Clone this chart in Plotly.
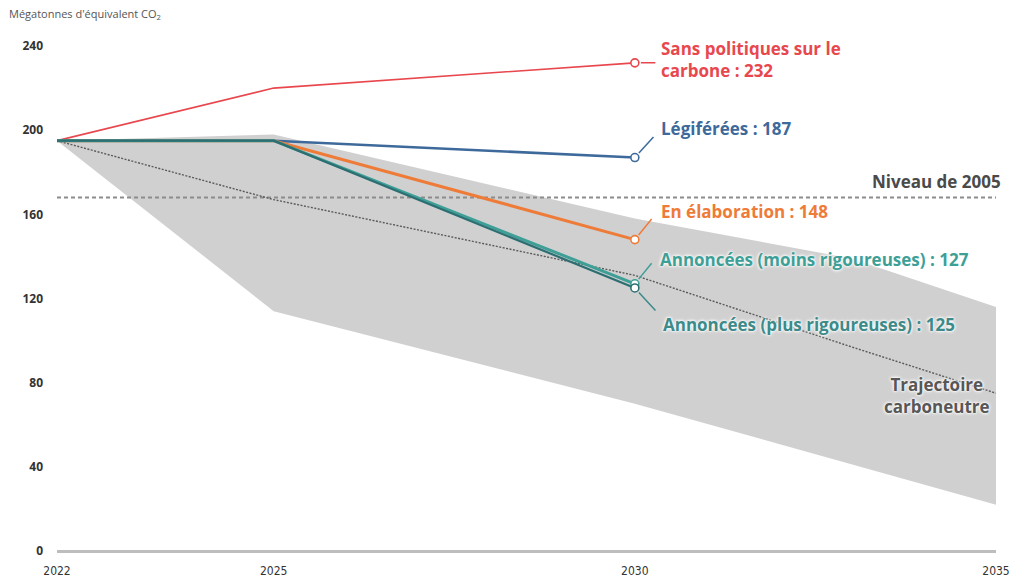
import plotly.graph_objects as go

# ---------------- data ----------------
years = [2022, 2025, 2030]
sans_politiques = [195, 220, 232]
legiferees = [195, 195, 187]
en_elaboration = [195, 195, 148]
annoncees_moins = [195, 195, 127]
annoncees_plus = [195, 195, 125]

band_years = [2022, 2025, 2030, 2033, 2035]
band_upper = [195, 198, 158, 139, 116]
band_lower = [195, 114, 70, 41, 22]

traj_years = [2022, 2025, 2030, 2033, 2035]
traj_values = [195, 167, 131, 97, 75]

niveau_2005 = 168

x_ticks = [2022, 2025, 2030, 2035]
y_ticks = [0, 40, 80, 120, 160, 200, 240]

# ---------------- styles ----------------
RED = "#E8474E"
BLUE = "#3E6A9B"
ORANGE = "#EE7B38"
TEAL_L = "#3E9F97"
TEAL_D = "#2D6E72"
GREY_TXT = "#4A4A4A"
LABEL_FONT = "Open Sans"

fig = go.Figure()

# grey band
fig.add_trace(go.Scatter(x=band_years, y=band_lower, mode="lines",
                         line=dict(width=0, color="#D0D0D0"), hoverinfo="skip",
                         showlegend=False))
fig.add_trace(go.Scatter(x=band_years, y=band_upper, mode="lines", fill="tonexty",
                         fillcolor="#D0D0D0", line=dict(width=0, color="#D0D0D0"),
                         hoverinfo="skip", showlegend=False))

# 2005 level
fig.add_trace(go.Scatter(x=[x_ticks[0], x_ticks[-1]], y=[niveau_2005, niveau_2005],
                         mode="lines", line=dict(color="#8C8C8C", width=1.8, dash="4px,3px"),
                         hoverinfo="skip", showlegend=False))

# carbon-neutral trajectory
fig.add_trace(go.Scatter(x=traj_years, y=traj_values, mode="lines",
                         line=dict(color="#5A5A5A", width=1.4, dash="2px,1.5px"),
                         hoverinfo="skip", showlegend=False))

series = [
    (sans_politiques, RED, 1.6),
    (legiferees, BLUE, 2.6),
    (en_elaboration, ORANGE, 3),
    (annoncees_moins, TEAL_L, 3),
    (annoncees_plus, TEAL_D, 2.2),
]
for vals, col, w in series:
    fig.add_trace(go.Scatter(x=years, y=vals, mode="lines",
                             line=dict(color=col, width=w), showlegend=False,
                             hoverinfo="x+y"))
for vals, col, w in series:
    fig.add_trace(go.Scatter(x=[years[-1]], y=[vals[-1]], mode="markers",
                             marker=dict(size=8, color="white",
                                         line=dict(color=col, width=1.6)),
                             showlegend=False, hoverinfo="skip"))

halo = "0 0 2px white, 0 0 3px white, 0 0 4px white"

labels = [
    (sans_politiques[-1], "Sans politiques sur le<br>carbone : " + str(sans_politiques[-1]), RED, 24, 3, 22, 0, None),
    (legiferees[-1], "Légiférées : " + str(legiferees[-1]), BLUE, 24, 29, 20, -22, None),
    (en_elaboration[-1], "En élaboration : " + str(en_elaboration[-1]), ORANGE, 24, 28, 18, -22, None),
    (annoncees_moins[-1], "Annoncées (moins rigoureuses) : " + str(annoncees_moins[-1]), TEAL_L, 23, 24, 18, -22, halo),
    (annoncees_plus[-1], "Annoncées (plus rigoureuses) : " + str(annoncees_plus[-1]), "#3C8A89", 26, -37, 22, 24, halo),
]
for val, txt, col, xs, ys, ax, ay, sh in labels:
    fnt = dict(family=LABEL_FONT, size=17, color=col, weight=700)
    if sh:
        fnt["shadow"] = sh
    fig.add_annotation(x=years[-1], y=val, xref="x", yref="y", text=txt,
                       showarrow=False, xanchor="left", yanchor="middle",
                       xshift=xs, yshift=ys, align="left", font=fnt)
    fig.add_annotation(x=years[-1], y=val, xref="x", yref="y", text="",
                       showarrow=True, ax=ax, ay=ay, arrowhead=0, arrowwidth=1.5,
                       arrowcolor=col, standoff=6)

fig.add_annotation(x=x_ticks[-1], y=niveau_2005, xref="x", yref="y",
                   text="Niveau de 2005", showarrow=False, xanchor="right",
                   yanchor="bottom", xshift=7, yshift=3,
                   font=dict(family=LABEL_FONT, size=17, color=GREY_TXT, weight=700))

fig.add_annotation(x=traj_years[-1], y=traj_values[-1], xref="x", yref="y",
                   text="Trajectoire<br>carboneutre", showarrow=False, xanchor="right",
                   yanchor="middle", xshift=-4, yshift=-2, align="center",
                   font=dict(family=LABEL_FONT, size=17, color="#575757", weight=700,
                             shadow=halo))

fig.add_annotation(x=0, y=1, xref="paper", yref="paper",
                   text="Mégatonnes d'équivalent CO<sub>2</sub>", showarrow=False,
                   xanchor="left", yanchor="bottom", xshift=-50, yshift=22,
                   font=dict(family=LABEL_FONT, size=11, color="#555555"))

fig.update_layout(
    width=1027, height=577,
    margin=dict(l=57, r=31, t=46, b=26, autoexpand=False),
    paper_bgcolor="white", plot_bgcolor="white",
    showlegend=False,
    xaxis=dict(range=[x_ticks[0], x_ticks[-1]], tickvals=x_ticks, automargin=False,
               ticktext=[str(t) for t in x_ticks], showgrid=False, zeroline=False,
               showline=False, ticks="", ticklabelstandoff=11,
               tickfont=dict(family="DejaVu Sans Condensed", size=12, color="#333333")),
    yaxis=dict(range=[0, y_ticks[-1]], tickvals=y_ticks, automargin=False,
               ticktext=[str(t) for t in y_ticks], showgrid=False,
               zeroline=True, zerolinecolor="#BDBDBD", zerolinewidth=3,
               showline=False, ticks="", ticklabelstandoff=13,
               tickfont=dict(family=LABEL_FONT, size=12, color="#333333", weight=700)),
)

fig.write_html("out.html")
